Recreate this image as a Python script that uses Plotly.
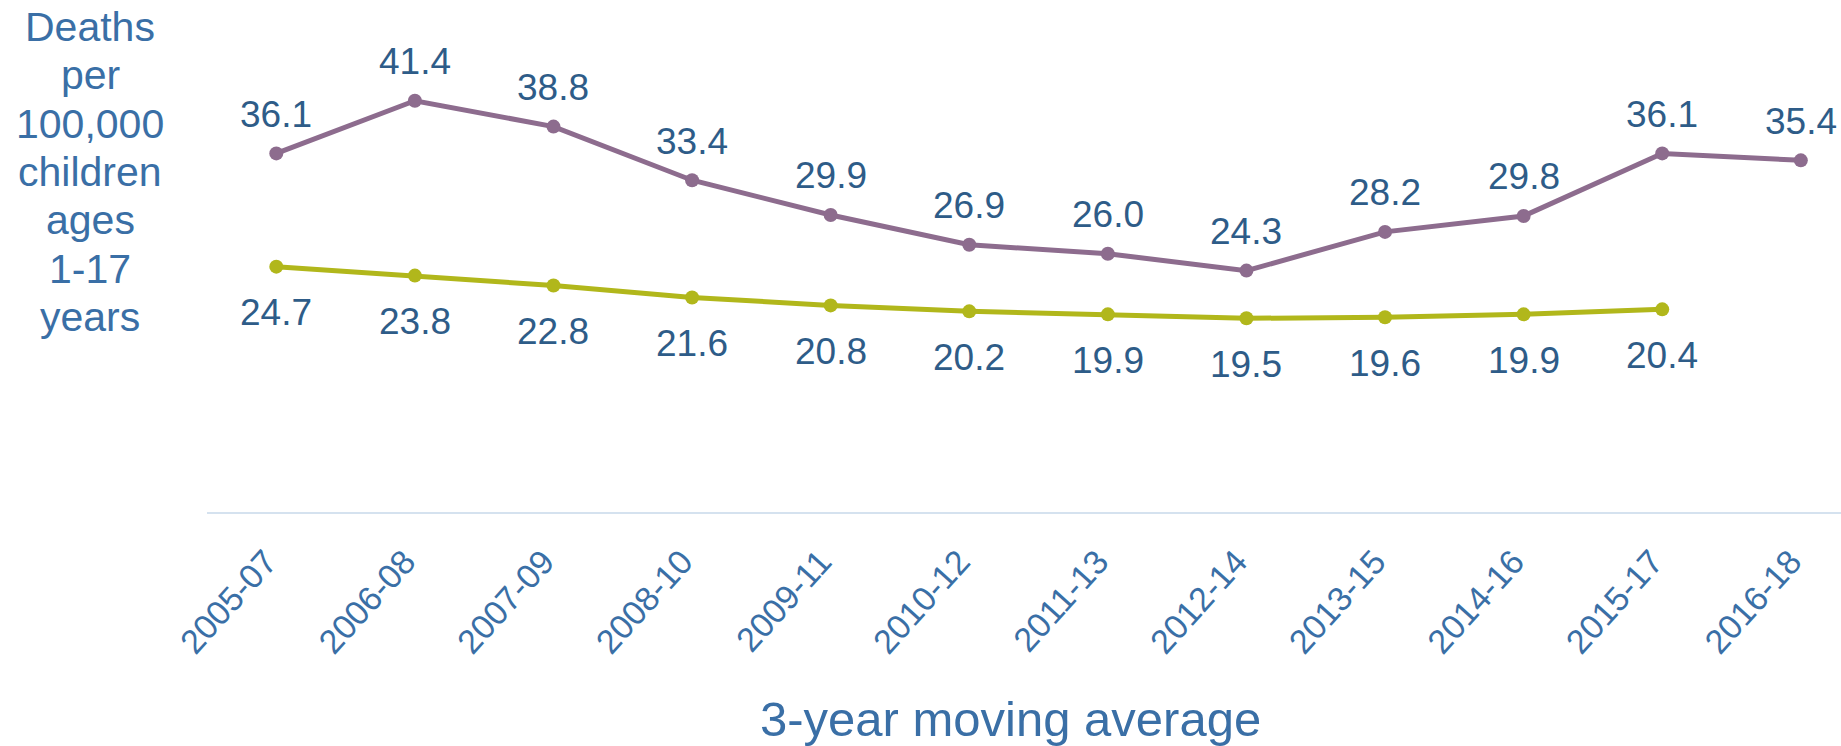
import plotly.graph_objects as go

categories = ["2005-07", "2006-08", "2007-09", "2008-10", "2009-11", "2010-12",
              "2011-13", "2012-14", "2013-15", "2014-16", "2015-17", "2016-18"]
series_a = [36.1, 41.4, 38.8, 33.4, 29.9, 26.9, 26.0, 24.3, 28.2, 29.8, 36.1, 35.4]
series_b = [24.7, 23.8, 22.8, 21.6, 20.8, 20.2, 19.9, 19.5, 19.6, 19.9, 20.4, None]
y_title_lines = ["Deaths", "per", "100,000", "children", "ages", "1-17", "years"]

purple = "#8D6C8E"
green = "#B1B71B"
label_color = "#2E5C88"
axis_text = "#3A6FA6"
FONT = "Liberation Sans"

fig = go.Figure()
fig.add_trace(go.Scatter(x=categories, y=series_a, mode="lines+markers",
                         line=dict(color=purple, width=5),
                         marker=dict(color=purple, size=14), showlegend=False))
fig.add_trace(go.Scatter(x=categories, y=series_b, mode="lines+markers",
                         line=dict(color=green, width=5),
                         marker=dict(color=green, size=14), showlegend=False))

annotations = []
for c, v in zip(categories, series_a):
    if v is not None:
        annotations.append(dict(x=c, y=v, xref="x", yref="y", text=f"{v:.1f}",
                                showarrow=False, yshift=39,
                                font=dict(family=FONT, size=37, color=label_color)))
for c, v in zip(categories, series_b):
    if v is not None:
        annotations.append(dict(x=c, y=v, xref="x", yref="y", text=f"{v:.1f}",
                                showarrow=False, yshift=-46,
                                font=dict(family=FONT, size=37, color=label_color)))

# y-axis title, one line per annotation (plot height 447 px -> 48 px line pitch)
for i, line in enumerate(y_title_lines):
    annotations.append(dict(x=-0.0716, y=(512 - 27 - 48.3 * i) / 447,
                            xref="paper", yref="paper", text=line,
                            showarrow=False, xanchor="center", yanchor="middle",
                            font=dict(family=FONT, size=41, color=axis_text)))

annotations.append(dict(x=0.492, y=-0.463, xref="paper", yref="paper",
                        text="3-year moving average", showarrow=False,
                        xanchor="center", yanchor="middle",
                        font=dict(family=FONT, size=49, color=axis_text)))

fig.update_layout(
    width=1841, height=746,
    margin=dict(l=207, r=0, t=65, b=234),
    paper_bgcolor="white", plot_bgcolor="white",
    annotations=annotations,
    hovermode=False,
    xaxis=dict(type="category", range=[-0.5, 11.29], showgrid=False,
               showline=True, linecolor="#D5E2EF", linewidth=2, zeroline=False,
               tickangle=-48, ticks="", ticklabelstandoff=14, ticklabelshift=-10,
               tickfont=dict(family=FONT, size=34, color=axis_text)),
    yaxis=dict(range=[0, 45], showgrid=False, showline=False, zeroline=False,
               showticklabels=False, ticks=""),
)

fig.write_html("out.html", config={"displayModeBar": False, "staticPlot": True},
               post_script="document.body.style.margin='0';document.body.style.overflow='hidden';")
